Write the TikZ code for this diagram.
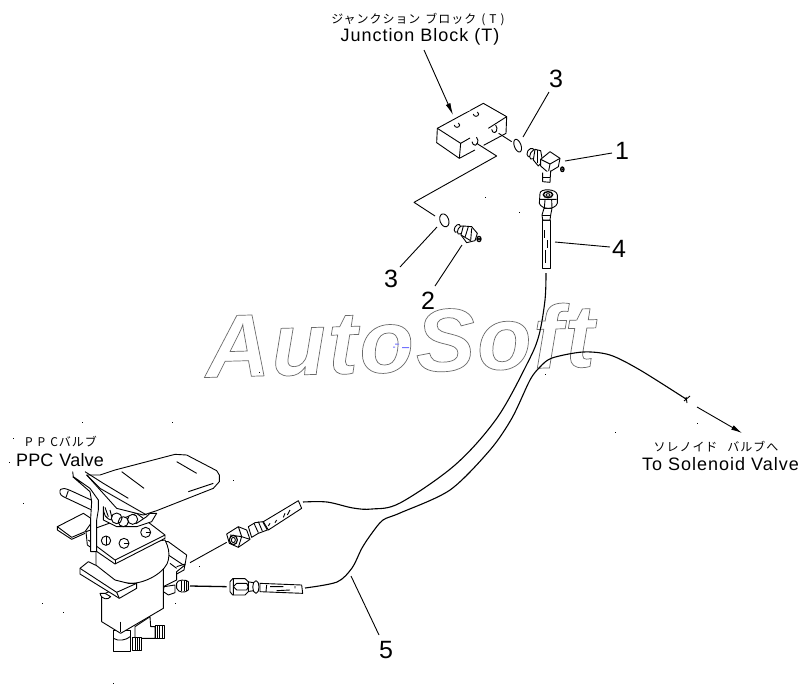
\documentclass[tikz,border=0pt]{standalone}
\usepackage{fontspec}
\setmainfont{Liberation Sans}
\newfontfamily\cjk{Noto Sans CJK JP}
\usetikzlibrary{arrows.meta}
\tikzset{
 ln/.style={line width=.9pt,black,line join=round},
 wf/.style={ln,fill=white},
 lead/.style={line width=.9pt,black},
 hose/.style={line width=1.1pt,black},
 num/.style={font=\fontsize{25}{25}\selectfont,inner sep=0pt},
 en/.style={font=\fontsize{18}{20}\selectfont\addfontfeature{LetterSpace=5.5},inner sep=0pt},
 jp/.style={font=\fontsize{12}{14}\cjk\addfontfeature{LetterSpace=8},inner sep=0pt},
 z1/.style={shift={(400,0)},x=.33333pt,y=-.33333pt},
 z2/.style={shift={(0,420)},x=.33333pt,y=-.33333pt},
 z8/.style={shift={(180,480)},x=.33333pt,y=-.33333pt},
 z9/.style={shift={(420,100)},x=.33333pt,y=-.33333pt},
}
\begin{document}
\begin{tikzpicture}[x=1pt,y=-1pt]
\useasboundingbox (0,0) rectangle (800,689);
\fill[white] (0,0) rectangle (800,689);
% watermark
\node[rotate=1.6,inner sep=0pt,anchor=base west] (wm) at (206,377.5) {\fontsize{89}{90}\selectfont\bfseries\itshape\addfontfeature{LetterSpace=2.2}\special{pdf:code q 1 Tr 0.7 w 0.42 0.42 0.42 RG}AutoSoft\special{pdf:code Q}};
\fill[blue!55] (393,346.5) rectangle +(2,1) (395,343.5) rectangle +(4,1) (402,347) rectangle +(7,1);
% specks
\foreach \p in {(485,197),(519,212),(82,422),(172,422),(233,480),(23,503),(42,603),(63,612),(199,566),(175,603),(113,683),(9,462),(13,438),(697,423),(615,432),(545,374),(259,372)}
 \fill \p rectangle +(1,1);
% hoses
\draw[hose] plot[smooth,tension=.55] coordinates {(546,273)(545,300)(539,335)(528,362)(497,418)(455,465)(400,503)(372,509)(353,508)(327,502)(303,502)};
\draw[hose] plot[smooth,tension=.5] coordinates {(305,588)(337,582)(352,568)(362,548)(372,533)(383,520)(400,513)(450,490)(490,450)(512,418)(530,380)(540,367)(552,358)(583,352)(610,355)(640,370)(686,399)};
\draw[line width=.9pt] (684,401) -- (690,396) (686,397)--(687,403);
\coordinate (s1) at (697,407); \coordinate (s2) at (742,433);
\draw[lead,-{Latex[length=11pt,width=5pt]}] (s1) -- (s2);
% junction block
\begin{scope}[z9]
 \draw[wf] (52,85) -- (190,10) -- (260,50) -- (258,100) -- (118,175) -- (50,128) -- cycle;
 \draw[white,line width=2pt] (155,110)--(205,85) (165,150)--(190,135) (120,38)--(150,28);
 \draw[ln] (52,85) -- (122,130) -- (118,175);
 \draw[ln] (122,130)--(150,114) (205,85)--(260,50);
 \draw[ln] (215,88) arc[start angle=170,end angle=-60,x radius=8,y radius=12] ;
 \draw[ln] (156,125) arc[start angle=170,end angle=-60,x radius=9,y radius=13];
 \draw[ln] (103,75) arc[start angle=180,end angle=-60,x radius=8,y radius=7];
 \draw[ln] (160,42) arc[start angle=180,end angle=-60,x radius=8,y radius=7];
 \coordinate (h1) at (236,100); \coordinate (h1b) at (275,125);
 % O-ring upper
 \draw[ln,rotate around={20:(293,137)}] (293,137) ellipse[x radius=10,y radius=20];
 % elbow fitting 1
 \draw[wf,rotate around={-30:(332,158)}] (332,158) ellipse[x radius=10,y radius=14];
 \draw[wf,rotate around={-30:(340,163)}] (340,163) ellipse[x radius=9,y radius=16];
 \draw[wf] (345,148) -- (362,152) -- (368,185) -- (355,198) -- (340,180) -- cycle;
 \draw[ln] (352,150)--(352,190);
 \draw[wf] (362,178) -- (390,155) -- (420,175) -- (415,200) -- (385,218) -- (362,198) -- cycle;
 \draw[ln] (362,178) -- (390,192) -- (420,175) (390,192)--(385,218);
 \draw[wf] (368,218) -- (368,245) -- (390,247) -- (392,212);
 \draw[ln] (368,232) -- (390,232);
 \draw[wf,line width=1.3pt] (427,208) ellipse[x radius=5,y radius=7];
 \draw[ln] (427,208) circle[radius=2];
\end{scope}
\draw[ln] (h1) -- (h1b);
\begin{scope}[z1]
 \coordinate (c0) at (230,430); \coordinate (c1) at (290,468); \coordinate (c2) at (42,607); \coordinate (c3) at (105,648);
 \draw[ln] (c0) -- (c1) -- (c2) -- (c3);
 \draw[ln,rotate around={20:(133,661)}] (133,661) ellipse[x radius=13,y radius=20];
 % fitting 2
 \draw[wf,rotate around={-30:(172,685)}] (172,685) ellipse[x radius=8,y radius=13];
 \draw[wf,rotate around={-30:(182,690)}] (182,690) ellipse[x radius=8,y radius=14];
 \draw[wf] (190,678) -- (215,680) -- (232,700) -- (225,722) -- (200,728) -- (183,705) -- cycle;
 \draw[ln] (205,680)--(195,712)--(212,722) (195,712)--(183,705) (215,685)--(212,722);
 \draw[wf,line width=1.3pt] (237,717) ellipse[x radius=6,y radius=8];
 \draw[ln] (237,717) circle[radius=2.5];
 % hose 4 top
 \draw[wf] (428,660) -- (428,805) -- (450,805) -- (450,660) -- cycle;
 \draw[ln] (434,690)--(434,715) (443,720)--(443,745) (436,750)--(436,790);
 \draw[wf] (432,625) -- (426,645) -- (428,660) -- (450,660) -- (452,645) -- (456,625) -- cycle;
 \draw[ln] (426,645)--(452,645);
 \draw[wf] (420,580) .. controls (420,565) and (470,565) .. (472,585) -- (472,610) .. controls (465,630) and (425,630) .. (418,610) -- cycle;
 \draw[ln] (420,598)--(470,598) (435,600)--(433,624) (455,600)--(456,624);
 \draw[line width=1.4pt,fill=white] (444,584) ellipse[x radius=14,y radius=9];
 \draw[ln,fill=white] (444,585) ellipse[x radius=6,y radius=4];
\end{scope}
% leaders and labels
\node[num] (n3a) at (556,79) {3};
\node[num] (n1) at (622,151) {1};
\node[num] (n4) at (619,249) {4};
\node[num] (n3b) at (391,279) {3};
\node[num] (n2) at (428,301) {2};
\node[num] (n5) at (386,650) {5};
\coordinate (l3a) at (523,137); \coordinate (l1) at (565,161); \coordinate (l4) at (555,242); \coordinate (l3b) at (437,227); \coordinate (l2) at (462,245); \coordinate (l5) at (351,576);
\draw[lead] (l3a) -- (549,92);
\draw[lead] (l1) -- (612,153);
\draw[lead] (l4) -- (610,247);
\draw[lead] (l3b) -- (400,267);
\draw[lead] (l2) -- (435,286);
\draw[lead] (l5) -- (379,635);
\node[jp,anchor=center] (jbj) at (418,20) {ジャンクション\hspace{5pt}ブロック\hspace{5pt}(\hspace{4pt}T\hspace{4pt})};
\node[en] (jb) at (420,37) {Junction Block (T)};
\coordinate (ja) at (424,50); \coordinate (jb2) at (453,115);
\draw[lead,-{Latex[length=12pt,width=5pt]}] (ja) -- (jb2);
\node[jp] (ppcj) at (61,442) {P\hspace{5pt}P\hspace{5pt}Cバルブ};
\node[en,anchor=center,font=\fontsize{18}{20}\selectfont\addfontfeature{LetterSpace=1}] (ppc) at (60,460) {PPC\hspace{6pt}Valve};
\node[jp] (solj) at (716,447) {ソレノイド\hspace{10pt}バルブへ};
\node[en] (sol) at (720.5,464) {To Solenoid Valve};
% valve
\begin{scope}[z2]
 % right bracket behind
 \draw[wf] (490,365) -- (505,365) -- (560,405) -- (555,435) -- (530,455) -- (530,480) -- (490,500) -- cycle;
 \draw[ln] (505,405)--(550,435) (510,430)--(530,445);
 \draw[ln] (530,440)--(555,432)--(552,450)--(530,462);
 \draw[wf] (492,500) -- (525,495) -- (525,518) -- (505,525) -- (490,515) -- cycle;
 \draw[wf] (530,490) .. controls (530,478) and (560,478) .. (565,485) -- (565,510) .. controls (555,520) and (535,518) .. (530,505) -- cycle;
 \draw[ln] (545,482)--(545,514) (553,482)--(553,514) (560,484)--(560,512);
 % bottom fittings
 \draw[wf] (405,620) -- (450,590) -- (452,620) -- (465,620) -- (465,655) -- (405,655) -- cycle;
 \draw[wf] (465,615) -- (492,615) -- (492,655) -- (465,655) -- cycle;
 \draw[ln] (472,616)--(472,654) (479,616)--(479,654) (486,616)--(486,654);
 \draw[wf] (340,630) -- (340,695) -- (390,695) -- (390,630) -- cycle;
 \draw[ln] (340,655) .. controls (355,665) and (380,660) .. (390,650);
 \draw[wf] (398,653) -- (425,653) -- (425,690) -- (398,690) -- cycle;
 \draw[ln] (405,654)--(405,689) (412,654)--(412,689) (419,654)--(419,689);
 % lower body
 \draw[wf] (305,525) -- (305,605) -- (362,640) -- (490,565) -- (490,440) -- cycle;
 \draw[ln] (360,605)--(360,635);
 % cylinder
 \draw[wf] (288,390) -- (288,440) .. controls (300,470) and (350,490) .. (400,490) .. controls (450,485) and (500,450) .. (505,420) .. controls (510,400) and (505,380) .. (495,360) -- cycle;
 % lower flange
 \draw[wf] (240,445) -- (265,425) -- (290,437) -- (345,480) -- (385,490) -- (410,490) -- (410,505) -- (358,535) -- (240,462) -- cycle;
 \draw[ln] (240,445) -- (350,517) -- (358,535) (350,517)--(410,490);
 \draw[wf] (300,520) .. controls (305,540) and (325,540) .. (332,530) -- (315,520) -- cycle;
 % left plate
 \draw[wf] (172,320) -- (250,280) -- (280,300) -- (255,335) -- (215,352) -- cycle;
 \draw[ln] (172,320) -- (172,330) -- (215,358) -- (255,340);
 % left rod
 \draw[wf] (182,208) .. controls (195,200) and (205,210) .. (285,245) -- (275,270) -- (190,230) .. controls (178,225) and (178,212) .. (182,208) -- cycle;
 \draw[ln] (205,212)--(198,232);
 % top plate
 \draw[wf] (258,335) -- (410,280) -- (495,345) -- (495,355) -- (345,432) -- (262,375) -- cycle;
 \draw[ln] (265,360) -- (345,420) -- (495,345);
 \draw[ln] (345,420)--(345,432);
 \draw[ln] (318,362) circle[radius=14] (372,370) circle[radius=15] (437,337) circle[radius=15];
 \draw[ln] (318,348)--(318,376) (372,370)--(386,370) (437,337)--(452,337);
 % pedal
 \draw[wf] (300,165) -- (345,150) -- (525,103) -- (560,105) -- (650,152) -- (658,165) -- (658,185) -- (640,205) -- (470,272) -- (430,285) -- (350,265) -- (260,165) -- cycle;
 \draw[ln] (365,155)--(432,205) (530,125)--(590,160) (565,215)--(640,190);
 \draw[ln] (255,155)--(310,190)--(385,235);
 \draw[ln] (260,165)--(300,205)--(440,285);
 \draw[wf] (218,155) -- (220,170) -- (270,205) -- (295,240) -- (295,270) -- (290,300) -- (290,395) -- (272,395) -- (272,295) -- (275,245) -- (270,215) -- (218,170);
 \draw[wf] (310,260) .. controls (310,280) and (315,300) .. (340,300) -- (410,310) -- (440,290) -- (450,280) -- (470,280) -- (455,305) -- (410,320) -- (350,320) -- (310,300) -- cycle;
 \draw[ln,fill=white] (350,295) circle[radius=16] (370,305) circle[radius=15] (398,298) circle[radius=15];
 \draw[ln] (315,262)--(325,290) (330,270)--(335,290);
\end{scope}
% hose fittings
\begin{scope}[z8]
 \coordinate (u0) at (30,248); \coordinate (u1) at (140,187);
 \coordinate (d0) at (30,318); \coordinate (d1) at (140,320);
 \draw[lead] (u0) -- (u1);
 \draw[line width=1.3pt] (d0) -- (d1);
 % upper tube
 \draw[wf] (250,125) -- (355,62) -- (365,85) -- (265,150) -- cycle;
 \draw[ln] (270,130)--(265,138) (290,120)--(285,128) (315,100)--(310,112) (330,90)--(322,105);
 \draw[wf] (205,140) -- (225,128) -- (248,125) -- (262,150) -- (235,160) -- (215,172) -- cycle;
 \draw[ln] (222,130)--(235,158) (235,125)--(247,153);
 \draw[wf] (140,162) -- (175,140) -- (200,150) -- (210,178) -- (175,202) -- (148,190) -- cycle;
 \draw[ln] (175,140)--(185,170)--(175,202) (185,170)--(210,178) (185,170)--(150,165);
 \draw[line width=1.2pt,fill=white] (160,180) ellipse[x radius=12,y radius=14];
 \draw[ln,fill=white] (160,180) ellipse[x radius=6,y radius=8];
 % lower tube
 \draw[wf] (240,310) -- (365,315) -- (368,340) -- (240,335) -- cycle;
 \draw[ln] (260,315)--(258,335) (270,320)--(310,320) (290,332)--(330,330) (345,318)--(345,325);
 \draw[wf] (200,305) -- (222,308) -- (222,332) -- (200,335) -- cycle;
 \draw[wf] (228,302) .. controls (215,302) and (215,340) .. (228,340) .. controls (240,340) and (240,302) .. (228,302) -- cycle;
 \draw[wf] (158,296) -- (195,296) -- (205,305) -- (205,335) -- (195,345) -- (158,345) -- (150,335) -- (150,305) -- cycle;
 \draw[ln] (160,296)--(160,345) (170,310)--(200,310) (170,330)--(200,330) (170,310)--(160,320)--(170,330) (200,310)--(205,320)--(200,330);
\end{scope}
\end{tikzpicture}
\end{document}
